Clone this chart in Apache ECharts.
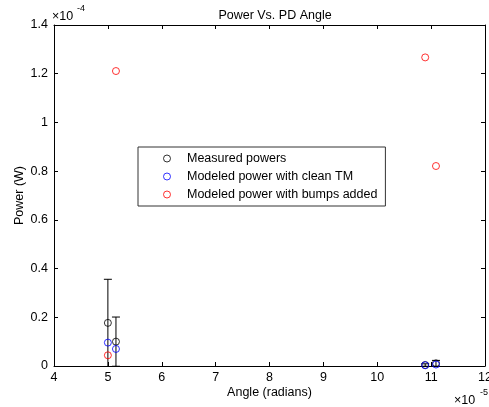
<!DOCTYPE html>
<html>
<head>
<meta charset="utf-8">
<script src="https://cdn.jsdelivr.net/npm/echarts@6/dist/echarts.min.js"></script>
<style>html,body{margin:0;padding:0;background:#fff}#c{width:489px;height:407px}</style>
</head>
<body>
<div id="c"></div>
<script>
// x in units of 1e-5 rad, y in units of 1e-4 W
const angles = [5.0, 5.15, 10.89, 11.09];
const measuredPowers = [0.177, 0.100, 0.004, 0.011];
const measuredErr = [0.179, 0.101, 0.005, 0.012];
const modeledClean = [0.096, 0.070, 0.003, 0.006];
const modeledBumps = [0.044, 1.211, 1.267, 0.821];
const xTicks = [4, 5, 6, 7, 8, 9, 10, 11, 12];
const yTicks = [0, 0.2, 0.4, 0.6, 0.8, 1.0, 1.2, 1.4];
const seriesNames = ['Measured powers', 'Modeled power with clean TM', 'Modeled power with bumps added'];

const FONT = 'Liberation Sans, Arial, sans-serif';
const FS = 12.5;
const chart = echarts.init(document.getElementById('c'), null, {renderer: 'canvas'});

const pts = (ys) => angles.map((a, i) => [a, ys[i]]);
const errData = angles.map((a, i) => [a, measuredPowers[i] - measuredErr[i], measuredPowers[i] + measuredErr[i]]);

const scatterBase = (name, color, data) => ({
  name, type: 'scatter', data, symbol: 'circle', symbolSize: 7,
  itemStyle: {color: 'rgba(255,255,255,0)', borderColor: color, borderWidth: 1},
  emphasis: {disabled: true}, silent: true, z: 5
});

const tickLabel = v => String(+(+v).toFixed(1));

chart.setOption({
  animation: false,
  backgroundColor: '#fff',
  textStyle: {fontFamily: FONT},
  title: {
    text: 'Power Vs. PD Angle', left: 270, top: 4, textAlign: 'center',
    textStyle: {fontFamily: FONT, fontSize: FS, fontWeight: 'normal', color: '#000'}
  },
  grid: {left: 54, right: 4, top: 25, bottom: 41, show: false, containLabel: false, outerBoundsMode: 'none'},
  legend: {
    orient: 'vertical', left: 138, top: 147,
    data: seriesNames,
    itemWidth: 30, itemHeight: 7, itemGap: 5,
    padding: [5, 8, 5, 25],
    borderColor: '#333', borderWidth: 1, backgroundColor: '#fff',
    itemStyle: {borderWidth: 1},
    textStyle: {fontFamily: FONT, fontSize: FS, color: '#000', lineHeight: 13},
    selectedMode: false
  },
  xAxis: [{
    type: 'value', min: xTicks[0], max: xTicks[xTicks.length - 1], interval: 1,
    name: 'Angle (radians)', nameLocation: 'middle', nameGap: 20, nameMoveOverlap: false,
    nameTextStyle: {fontFamily: FONT, fontSize: FS, color: '#000'},
    axisLine: {show: true, onZero: false, lineStyle: {color: '#000', width: 1}},
    axisTick: {show: true, inside: true, length: 4, lineStyle: {color: '#000'}},
    axisLabel: {show: true, margin: 5, fontFamily: FONT, fontSize: FS, color: '#000', formatter: tickLabel, showMaxLabel: true},
    splitLine: {show: false}
  }, {
    type: 'value', position: 'top', min: xTicks[0], max: xTicks[xTicks.length - 1], interval: 1,
    axisLine: {show: true, onZero: false, lineStyle: {color: '#000', width: 1}},
    axisTick: {show: true, inside: true, length: 4, lineStyle: {color: '#000'}},
    axisLabel: {show: false}, splitLine: {show: false}
  }],
  yAxis: [{
    type: 'value', min: yTicks[0], max: yTicks[yTicks.length - 1], interval: 0.2,
    name: 'Power (W)', nameLocation: 'middle', nameGap: 28, nameRotate: 90, nameMoveOverlap: false,
    nameTextStyle: {fontFamily: FONT, fontSize: FS, color: '#000'},
    axisLine: {show: true, onZero: false, lineStyle: {color: '#000', width: 1}},
    axisTick: {show: true, inside: true, length: 4, lineStyle: {color: '#000'}},
    axisLabel: {show: true, margin: 6, fontFamily: FONT, fontSize: FS, color: '#000', formatter: tickLabel},
    splitLine: {show: false}
  }, {
    type: 'value', position: 'right', min: yTicks[0], max: yTicks[yTicks.length - 1], interval: 0.2,
    axisLine: {show: true, onZero: false, lineStyle: {color: '#000', width: 1}},
    axisTick: {show: true, inside: true, length: 4, lineStyle: {color: '#000'}},
    axisLabel: {show: false}, splitLine: {show: false}
  }],
  graphic: [
    {type: 'text', left: 52, top: 10, style: {text: '×10', font: FS + 'px ' + FONT, fill: '#000'}},
    {type: 'text', left: 77, top: 4, style: {text: '-4', font: '9px ' + FONT, fill: '#000'}},
    {type: 'text', left: 454, top: 394, style: {text: '×10', font: FS + 'px ' + FONT, fill: '#000'}},
    {type: 'text', left: 480, top: 388, style: {text: '-5', font: '9px ' + FONT, fill: '#000'}}
  ],
  series: [
    {
      name: 'errbar', type: 'custom', data: errData, silent: true, z: 3,
      clip: true,
      renderItem: function (params, api) {
        const x = api.value(0);
        const lo = api.coord([x, api.value(1)]);
        const hi = api.coord([x, api.value(2)]);
        const hw = 4;
        const st = {stroke: '#000', lineWidth: 1};
        return {
          type: 'group',
          children: [
            {type: 'line', shape: {x1: lo[0], y1: lo[1], x2: hi[0], y2: hi[1]}, style: st},
            {type: 'line', shape: {x1: lo[0] - hw, y1: lo[1], x2: lo[0] + hw, y2: lo[1]}, style: st},
            {type: 'line', shape: {x1: hi[0] - hw, y1: hi[1], x2: hi[0] + hw, y2: hi[1]}, style: st}
          ]
        };
      }
    },
    scatterBase(seriesNames[0], '#000000', pts(measuredPowers)),
    scatterBase(seriesNames[1], '#0000ff', pts(modeledClean)),
    scatterBase(seriesNames[2], '#ff0000', pts(modeledBumps))
  ]
});
</script>
</body>
</html>
